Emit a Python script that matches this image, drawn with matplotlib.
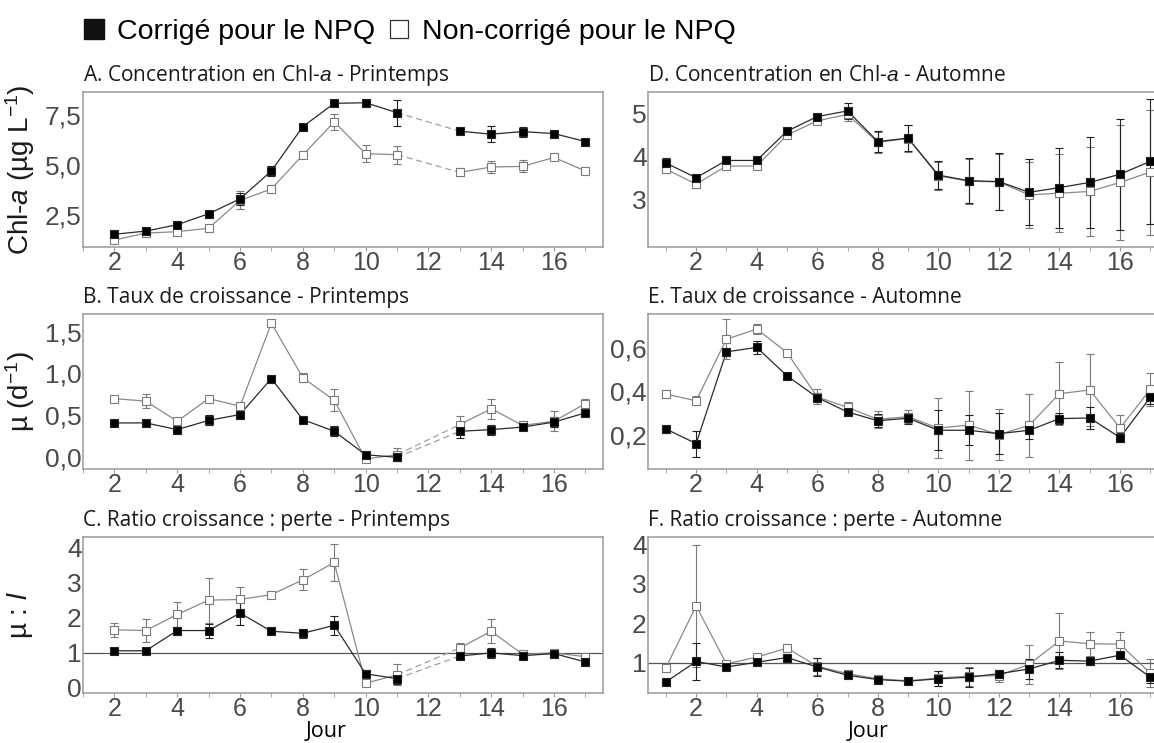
import matplotlib
matplotlib.use("Agg")
import matplotlib.pyplot as plt
from matplotlib.lines import Line2D

# Days
spring_days = [2, 3, 4, 5, 6, 7, 8, 9, 10, 11, 13, 14, 15, 16, 17]
autumn_days = list(range(1, 18))

# A. Chl-a, printemps
a_corr = [1.52, 1.68, 2.0, 2.55, 3.3, 4.7, 6.93, 8.1, 8.13, 7.63, 6.7, 6.55, 6.68, 6.58, 6.18]
a_corr_err = [0.05, 0.05, 0.1, 0.05, 0.3, 0.25, 0.15, 0.15, 0.05, 0.65, 0.1, 0.4, 0.25, 0.1, 0.05]
a_non = [1.23, 1.58, 1.65, 1.82, 3.22, 3.8, 5.5, 7.17, 5.57, 5.52, 4.63, 4.9, 4.93, 5.38, 4.7]
a_non_err = [0.05, 0.05, 0.05, 0.05, 0.45, 0.2, 0.05, 0.4, 0.43, 0.45, 0.2, 0.3, 0.3, 0.05, 0.1]

# B. Taux de croissance, printemps
b_corr = [0.41, 0.41, 0.33, 0.44, 0.51, 0.94, 0.45, 0.31, 0.03, 0.0, 0.31, 0.33, 0.36, 0.42, 0.53]
b_corr_err = [0.01, 0.01, 0.03, 0.06, 0.02, 0.01, 0.01, 0.06, 0.02, 0.05, 0.08, 0.06, 0.02, 0.06, 0.02]
b_non = [0.70, 0.67, 0.43, 0.70, 0.61, 1.60, 0.95, 0.68, -0.02, 0.03, 0.39, 0.58, 0.38, 0.43, 0.64]
b_non_err = [0.03, 0.08, 0.03, 0.01, 0.02, 0.03, 0.05, 0.13, 0.01, 0.08, 0.1, 0.12, 0.03, 0.12, 0.06]

# C. Ratio croissance : perte, printemps
c_corr = [1.05, 1.05, 1.63, 1.63, 2.13, 1.61, 1.55, 1.78, 0.39, 0.25, 0.90, 0.99, 0.91, 0.97, 0.73]
c_corr_err = [0.04, 0.08, 0.1, 0.2, 0.35, 0.05, 0.12, 0.28, 0.1, 0.15, 0.1, 0.15, 0.04, 0.06, 0.04]
c_non = [1.65, 1.63, 2.09, 2.5, 2.52, 2.66, 3.08, 3.58, 0.12, 0.36, 1.13, 1.61, 0.95, 0.99, 0.88]
c_non_err = [0.2, 0.34, 0.37, 0.64, 0.37, 0.05, 0.3, 0.53, 0.05, 0.3, 0.15, 0.35, 0.05, 0.05, 0.05]

# D. Chl-a, automne
d_corr = [3.85, 3.51, 3.91, 3.91, 4.59, 4.93, 5.06, 4.35, 4.43, 3.57, 3.44, 3.42, 3.17, 3.28, 3.40, 3.59, 3.89]
d_corr_err = [0.12, 0.06, 0.05, 0.04, 0.04, 0.07, 0.18, 0.25, 0.31, 0.32, 0.52, 0.66, 0.77, 0.93, 1.06, 1.29, 1.45]
d_non = [3.71, 3.36, 3.78, 3.78, 4.50, 4.83, 4.98, 4.33, 4.42, 3.55, 3.43, 3.41, 3.11, 3.15, 3.19, 3.40, 3.64]
d_non_err = [0.08, 0.08, 0.05, 0.04, 0.04, 0.08, 0.15, 0.25, 0.31, 0.32, 0.52, 0.66, 0.76, 0.91, 1.03, 1.33, 1.45]

# E. Taux de croissance, automne
e_corr = [0.226, 0.158, 0.584, 0.605, 0.473, 0.372, 0.305, 0.264, 0.276, 0.22, 0.22, 0.204, 0.22, 0.274, 0.277, 0.186, 0.373]
e_corr_err = [0.01, 0.06, 0.02, 0.03, 0.01, 0.02, 0.02, 0.03, 0.025, 0.094, 0.07, 0.095, 0.04, 0.024, 0.05, 0.02, 0.03]
e_non = [0.388, 0.357, 0.643, 0.690, 0.581, 0.375, 0.326, 0.271, 0.283, 0.23, 0.244, 0.20, 0.243, 0.39, 0.407, 0.23, 0.41]
e_non_err = [0.02, 0.02, 0.093, 0.025, 0.015, 0.035, 0.025, 0.04, 0.03, 0.14, 0.16, 0.12, 0.146, 0.145, 0.165, 0.063, 0.077]

# F. Ratio croissance : perte, automne
f_corr = [0.51, 1.03, 0.89, 1.01, 1.13, 0.89, 0.68, 0.57, 0.53, 0.59, 0.63, 0.72, 0.84, 1.06, 1.04, 1.19, 0.63]
f_corr_err = [0.02, 0.48, 0.04, 0.05, 0.05, 0.22, 0.05, 0.08, 0.06, 0.19, 0.24, 0.1, 0.25, 0.2, 0.1, 0.05, 0.15]
f_non = [0.87, 2.44, 0.97, 1.14, 1.37, 0.91, 0.72, 0.59, 0.54, 0.61, 0.66, 0.67, 0.96, 1.55, 1.48, 1.47, 0.73]
f_non_err = [0.1, 1.55, 0.1, 0.05, 0.1, 0.22, 0.05, 0.08, 0.06, 0.19, 0.24, 0.15, 0.5, 0.72, 0.3, 0.32, 0.36]

titles = ["A. Concentration en Chl-$\\it{a}$ - Printemps",
          "B. Taux de croissance - Printemps",
          "C. Ratio croissance : perte - Printemps",
          "D. Concentration en Chl-$\\it{a}$ - Automne",
          "E. Taux de croissance - Automne",
          "F. Ratio croissance : perte - Automne"]
ylabels = ["Chl-$\\it{a}$ (µg L$^{-1}$)", "µ (d$^{-1}$)", "µ : $\\it{l}$"]

plt.rcParams['mathtext.fontset'] = 'custom'
plt.rcParams['mathtext.it'] = 'Liberation Sans:italic'
plt.rcParams['mathtext.rm'] = 'Liberation Sans'

TICK_FONT = 'Liberation Sans'
TITLE_FONT = 'Open Sans'
CORR_C = '#2a2a2a'
NON_C = '#8a8a8a'
SPINE_C = '#9a9a9a'

fig = plt.figure(figsize=(11.54, 7.43), dpi=100)
W, H = 1154, 743

def add_ax(x0, x1, y0, y1):
    return fig.add_axes([x0 / W, 1 - y1 / H, (x1 - x0) / W, (y1 - y0) / H])

rows = [(92, 247), (314, 469), (537, 693)]
left_axes = [add_ax(83, 603, r0, r1) for r0, r1 in rows]
right_axes = [add_ax(648, 1160, r0, r1) for r0, r1 in rows]


def draw_series(ax, days, vals, errs, filled, gap):
    col = CORR_C if filled else NON_C
    face = 'black' if filled else 'white'
    ecol = '#222222' if filled else '#7a7a7a'
    if gap:
        i = days.index(11)
        ax.plot(days[:i + 1], vals[:i + 1], color=col, lw=0.9, zorder=2)
        ax.plot(days[i + 1:], vals[i + 1:], color=col, lw=0.9, zorder=2)
        ax.plot(days[i:i + 2], vals[i:i + 2], color='#a0a0a0', lw=0.9,
                ls=(0, (5, 3)), zorder=2)
    else:
        ax.plot(days, vals, color=col, lw=0.9, zorder=2)
    ax.errorbar(days, vals, yerr=errs, fmt='none', ecolor=ecol,
                elinewidth=0.8, capsize=3, capthick=0.8, zorder=3)
    ax.plot(days, vals, ls='none', marker='s', ms=5.5, mfc=face,
            mec=ecol, mew=0.8, zorder=4)


def style(ax, xlim, ylim, yticks, ylabels_txt):
    ax.set_xlim(*xlim)
    ax.set_ylim(*ylim)
    ax.set_xticks(range(2, 17, 2))
    ax.set_xticks(range(1, 18), minor=True)
    ax.set_yticks(yticks)
    ax.set_yticklabels(ylabels_txt)
    for s in ax.spines.values():
        s.set_color(SPINE_C)
        s.set_linewidth(1.1)
    ax.tick_params(axis='x', which='both', length=3, color=SPINE_C,
                   labelsize=18, labelcolor='#4a4a4a', pad=0)
    ax.tick_params(axis='y', length=0, labelsize=19, labelcolor='#4a4a4a', pad=1)
    for lab in ax.get_xticklabels() + ax.get_yticklabels():
        lab.set_fontfamily(TICK_FONT)


panels = [
    (left_axes[0], spring_days, a_corr, a_corr_err, a_non, a_non_err, True,
     (1.38, 17.56), (0.88, 8.67), [2.5, 5.0, 7.5], ['2,5', '5,0', '7,5']),
    (left_axes[1], spring_days, b_corr, b_corr_err, b_non, b_non_err, True,
     (1.38, 17.56), (-0.14, 1.71), [0.0, 0.5, 1.0, 1.5], ['0,0', '0,5', '1,0', '1,5']),
    (left_axes[2], spring_days, c_corr, c_corr_err, c_non, c_non_err, True,
     (1.38, 17.56), (-0.16, 4.31), [0, 1, 2, 3, 4], ['0', '1', '2', '3', '4']),
    (right_axes[0], autumn_days, d_corr, d_corr_err, d_non, d_non_err, False,
     (0.41, 17.32), (1.9, 5.5), [3, 4, 5], ['3', '4', '5']),
    (right_axes[1], autumn_days, e_corr, e_corr_err, e_non, e_non_err, False,
     (0.41, 17.32), (0.04, 0.76), [0.2, 0.4, 0.6], ['0,2', '0,4', '0,6']),
    (right_axes[2], autumn_days, f_corr, f_corr_err, f_non, f_non_err, False,
     (0.41, 17.32), (0.23, 4.19), [1, 2, 3, 4], ['1', '2', '3', '4']),
]

for k, (ax, days, yc, ec, yn, en, gap, xl, yl, yt, ytl) in enumerate(panels):
    draw_series(ax, days, yn, en, False, gap)
    draw_series(ax, days, yc, ec, True, gap)
    style(ax, xl, yl, yt, ytl)
    ax.set_title(titles[k], loc='left', fontsize=15, fontfamily=TITLE_FONT,
                 color='#1a1a1a', pad=8)

# x labels, centred as in the original
for ax, xfrac in ((left_axes[2], 0.467), (right_axes[2], 0.43)):
    ax.axhline(1, color='#555555', lw=0.9, zorder=1)
    ax.set_xlabel('Jour', fontsize=15.5, fontfamily=TITLE_FONT)
    ax.xaxis.set_label_coords(xfrac, -0.18)

for ax, lab in zip(left_axes, ylabels):
    pos = ax.get_position()
    fig.text(20 / W, pos.y0 + pos.height / 2, lab, rotation=90, ha='center',
             va='center', fontsize=20, fontfamily='Liberation Sans', color='#1a1a1a')

handles = [Line2D([], [], ls='none', marker='s', ms=15, mfc='#111111', mec='#111111'),
           Line2D([], [], ls='none', marker='s', ms=12.5, mfc='white', mec='#333333', mew=0.9)]
fig.legend(handles, ['Corrigé pour le NPQ', 'Non-corrigé pour le NPQ'],
           loc='center left', bbox_to_anchor=(54 / W, 1 - 32 / H), ncol=2,
           frameon=False, handletextpad=0.3, columnspacing=0.35, handlelength=1.0,
           prop={'family': 'Liberation Sans', 'size': 20.5})

fig.savefig('out.png', dpi=100)
